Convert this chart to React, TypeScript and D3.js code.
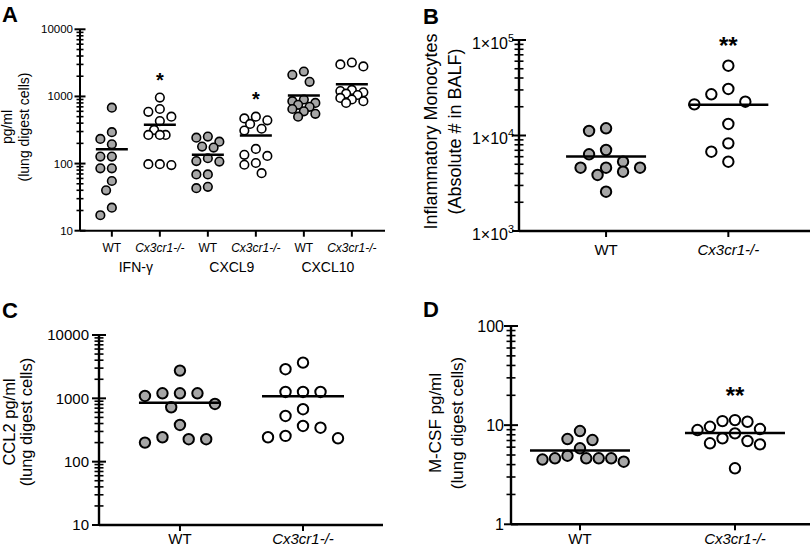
import React from 'react'
import * as d3 from 'd3'

const genotypes = ['WT', 'Cx3cr1-/-']
const cytokines = ['IFN-γ', 'CXCL9', 'CXCL10']

// panel A, pg/ml (lung digest cells)
const ifngWT = [680, 293, 233, 194, 127, 127, 85, 85, 55, 40, 22, 17]
const ifngKO = [960, 650, 590, 500, 430, 317, 267, 267, 267, 98, 98, 95]
const cxcl9WT = [252, 243, 212, 179, 173, 120, 109, 107, 69, 69, 45, 43]
const cxcl9KO = [470, 500, 440, 390, 310, 330, 165, 135, 130, 102, 96, 72]
const cxcl10WT = [2350, 2100, 1650, 900, 850, 800, 750, 700, 650, 600, 550, 500]
const cxcl10KO = [3200, 3000, 2800, 1250, 1200, 1150, 1100, 1050, 950, 900, 850, 800]
const aStars = ['', '*', '', '*', '', '']

// panel B, inflammatory monocytes in BALF
const monoWT = [11150, 11900, 7050, 6360, 5320, 4600, 4600, 4600, 4180, 3860, 2580]
const monoKO = [53800, 30700, 27000, 22600, 21200, 13200, 8280, 6770, 5320]
const bStars = ['', '**']

// panel C, CCL2
const ccl2WT = [2740, 1200, 1200, 1200, 1090, 816, 723, 380, 243, 226, 226, 200]
const ccl2KO = [3660, 2880, 1260, 1260, 1260, 673, 527, 366, 344, 255, 243, 234]
const cStars = ['', '']

// panel D, M-CSF
const mcsfWT = [8.72, 7.24, 7.08, 5.84, 4.92, 4.63, 4.63, 4.63, 4.63, 4.5, 4.28]
const mcsfKO = [11.25, 10.99, 10.82, 9.63, 9.14, 8.93, 8.26, 7.36, 6.92, 6.56, 6.4, 3.67]
const dStars = ['', '**']

const aTicks = [10, 100, 1000, 10000]
const bTicks = [1e3, 1e4, 1e5]
const cTicks = [10, 100, 1000, 10000]
const dTicks = [1, 10, 100]

const FONT = '"Liberation Sans", Arial, Helvetica, sans-serif'
const GRAY = '#a6a6a6'

interface Group {
  key: string
  label: string
  values: number[]
  filled: boolean
  star: string
}

interface PanelSpec {
  letter: string
  letterPos: [number, number]
  groups: Group[]
  axisX: number
  xEnd: number
  yTop: number
  yBottom: number
  ticks: number[]
  padding: number
  align: number
  sci: boolean
  tickFont: number
  tickGap: number
  labelFont: number
  labelBaseline: number
  yLabel: string[]
  yLabelX: number[]
  yLabelY: number
  yLabelFont: number
  r: number
  stroke: number
  spacing: number
  maxSteps: number
  half: number
  major: number
  minor: number
  axisW: number
  starGap: number
  starFont: number
  groupLabels?: { text: string; keys: string[] }[]
  groupLabelY?: number
  groupLabelFont?: number
}

// greedy beeswarm in half-spacing steps; when crowded, points overlap
function swarm(ys: number[], spacing: number, maxSteps: number) {
  const order = d3.range(ys.length).sort((a, b) => ys[a] - ys[b])
  const placed: [number, number][] = []
  const out = new Array(ys.length).fill(0)
  const h = spacing / 2
  const min2 = (spacing * 0.92) ** 2
  for (const i of order) {
    let best = 0
    let bestD = -1
    let found = false
    for (let k = 0; k <= maxSteps * 4; k++) {
      const off = k === 0 ? 0 : (k % 2 ? -1 : 1) * Math.ceil(k / 2) * h
      const d = placed.length
        ? (d3.min(placed, ([px, py]) => (px - off) ** 2 + (py - ys[i]) ** 2) as number)
        : Infinity
      if (d >= min2) {
        out[i] = off
        found = true
        break
      }
      if (d > bestD) {
        bestD = d
        best = off
      }
    }
    if (!found) out[i] = best
    placed.push([out[i], ys[i]])
  }
  return out
}

const Panel: React.FC<{ spec: PanelSpec }> = ({ spec }) => {
  const s = spec
  const lo = s.ticks[0]
  const hi = s.ticks[s.ticks.length - 1]
  const y = d3.scaleLog().domain([lo, hi]).range([s.yBottom, s.yTop])
  const x = d3
    .scalePoint()
    .domain(s.groups.map((g) => g.key))
    .range([s.axisX, s.xEnd])
    .padding(s.padding)
    .align(s.align)

  const minor: number[] = []
  d3.range(Math.round(Math.log10(lo)), Math.round(Math.log10(hi))).forEach((k) => {
    for (let m = 2; m <= 9; m++) minor.push(m * Math.pow(10, k))
  })

  return (
    <g fontFamily={FONT}>
      <text x={s.letterPos[0]} y={s.letterPos[1]} fontSize={22} fontWeight="bold">
        {s.letter}
      </text>

      {/* y label */}
      {s.yLabel.map((t, i) => (
        <text
          key={t}
          transform={`translate(${s.yLabelX[i]},${s.yLabelY}) rotate(-90)`}
          textAnchor="middle"
          dy="0.35em"
          fontSize={s.yLabelFont}
        >
          {t}
        </text>
      ))}

      {/* y axis */}
      <line x1={s.axisX} x2={s.axisX} y1={s.yTop} y2={s.yBottom} stroke="#000" strokeWidth={s.axisW} />
      {minor.map((v) => (
        <line
          key={'m' + v}
          x1={s.axisX - s.minor}
          x2={s.axisX + s.minor}
          y1={y(v)}
          y2={y(v)}
          stroke="#000"
          strokeWidth={1.6}
        />
      ))}
      {s.ticks.map((v) => (
        <g key={'t' + v}>
          <line
            x1={s.axisX - s.major}
            x2={s.axisX + s.major}
            y1={y(v)}
            y2={y(v)}
            stroke="#000"
            strokeWidth={2}
          />
          {s.sci ? (
            <text x={s.axisX - s.tickGap} y={y(v)} dy="0.55em" textAnchor="end" fontSize={s.tickFont}>
              <tspan>1×10</tspan>
              <tspan dy={-7} fontSize={s.tickFont * 0.68}>
                {Math.round(Math.log10(v))}
              </tspan>
            </text>
          ) : (
            <text x={s.axisX - s.tickGap} y={y(v)} dy="0.35em" textAnchor="end" fontSize={s.tickFont}>
              {v}
            </text>
          )}
        </g>
      ))}

      {/* x axis */}
      <line x1={s.axisX} x2={s.xEnd} y1={s.yBottom} y2={s.yBottom} stroke="#000" strokeWidth={s.axisW} />
      {s.groups.map((g) => (
        <g key={'x' + g.key}>
          <line
            x1={x(g.key)}
            x2={x(g.key)}
            y1={s.yBottom}
            y2={s.yBottom + 6}
            stroke="#000"
            strokeWidth={2}
          />
          <text
            x={x(g.key)}
            y={s.labelBaseline}
            textAnchor="middle"
            fontSize={s.labelFont}
            fontStyle={g.label === 'WT' ? 'normal' : 'italic'}
          >
            {g.label}
          </text>
        </g>
      ))}
      {s.groupLabels &&
        s.groupLabels.map((gl) => (
          <text
            key={gl.text}
            x={d3.mean(gl.keys, (k) => x(k) as number)}
            y={s.groupLabelY}
            textAnchor="middle"
            fontSize={s.groupLabelFont}
          >
            {gl.text}
          </text>
        ))}

      {/* points, mean, stars */}
      {s.groups.map((g) => {
        const cx = x(g.key) as number
        const ys = g.values.map((v) => y(v))
        const offs = swarm(ys, s.spacing, s.maxSteps)
        const m = y(d3.mean(g.values) as number)
        const top = d3.min(ys) as number
        return (
          <g key={'p' + g.key}>
            {g.values.map((v, i) => (
              <circle
                key={i}
                cx={cx + offs[i]}
                cy={ys[i]}
                r={s.r}
                fill={g.filled ? GRAY : '#fff'}
                stroke="#000"
                strokeWidth={s.stroke}
              />
            ))}
            <line x1={cx - s.half} x2={cx + s.half} y1={m} y2={m} stroke="#000" strokeWidth={2.5} />
            {g.star && (
              <text
                x={cx}
                y={top - s.starGap}
                textAnchor="middle"
                fontSize={s.starFont}
                fontWeight="bold"
                dy="0.5em"
              >
                {g.star}
              </text>
            )}
          </g>
        )
      })}
    </g>
  )
}

const aValues = [ifngWT, ifngKO, cxcl9WT, cxcl9KO, cxcl10WT, cxcl10KO]
const aGroups: Group[] = aValues.map((values, i) => ({
  key: cytokines[Math.floor(i / 2)] + '|' + genotypes[i % 2],
  label: genotypes[i % 2],
  values,
  filled: i % 2 === 0,
  star: aStars[i],
}))

const pair = (vals: number[][], stars: string[]): Group[] =>
  vals.map((values, i) => ({ key: genotypes[i], label: genotypes[i], values, filled: i === 0, star: stars[i] }))

const panels: PanelSpec[] = [
  {
    letter: 'A',
    letterPos: [2, 22],
    groups: aGroups,
    axisX: 80,
    xEnd: 385,
    yTop: 29.3,
    yBottom: 230.7,
    ticks: aTicks,
    padding: 0.677,
    align: 0.49,
    sci: false,
    tickFont: 11.5,
    tickGap: 7,
    labelFont: 12,
    labelBaseline: 252,
    yLabel: ['pg/ml', '(lung digest cells)'],
    yLabelX: [7.5, 24],
    yLabelY: 127,
    yLabelFont: 14,
    r: 4.3,
    stroke: 1.6,
    spacing: 11.5,
    maxSteps: 1,
    half: 16,
    major: 5.5,
    minor: 3.5,
    axisW: 2,
    starGap: 21,
    starFont: 20,
    groupLabels: cytokines.map((c) => ({ text: c, keys: genotypes.map((g) => c + '|' + g) })),
    groupLabelY: 272,
    groupLabelFont: 14,
  },
  {
    letter: 'B',
    letterPos: [423, 24],
    groups: pair([monoWT, monoKO], bStars),
    axisX: 519,
    xEnd: 810,
    yTop: 40,
    yBottom: 231,
    ticks: bTicks,
    padding: 0.69,
    align: 0.516,
    sci: true,
    tickFont: 16,
    tickGap: 5,
    labelFont: 15,
    labelBaseline: 255,
    yLabel: ['Inflammatory Monocytes', '(Absolute # in BALF)'],
    yLabelX: [431, 455],
    yLabelY: 131.5,
    yLabelFont: 18,
    r: 5.2,
    stroke: 2,
    spacing: 17,
    maxSteps: 2,
    half: 40,
    major: 7,
    minor: 4.5,
    axisW: 2.4,
    starGap: 24,
    starFont: 24,
  },
  {
    letter: 'C',
    letterPos: [2, 318],
    groups: pair([ccl2WT, ccl2KO], cStars),
    axisX: 99,
    xEnd: 383,
    yTop: 335,
    yBottom: 525,
    ticks: cTicks,
    padding: 0.654,
    align: 0.503,
    sci: false,
    tickFont: 15,
    tickGap: 10,
    labelFont: 15,
    labelBaseline: 544,
    yLabel: ['CCL2 pg/ml', '(lung digest cells)'],
    yLabelX: [9, 26],
    yLabelY: 422,
    yLabelFont: 16.5,
    r: 5.2,
    stroke: 2,
    spacing: 17.5,
    maxSteps: 2,
    half: 41,
    major: 7,
    minor: 4.5,
    axisW: 2.4,
    starGap: 24,
    starFont: 24,
  },
  {
    letter: 'D',
    letterPos: [423, 317],
    groups: pair([mcsfWT, mcsfKO], dStars),
    axisX: 511,
    xEnd: 810,
    yTop: 326,
    yBottom: 524.3,
    ticks: dTicks,
    padding: 0.4645,
    align: 0.479,
    sci: false,
    tickFont: 16,
    tickGap: 7,
    labelFont: 15,
    labelBaseline: 544,
    yLabel: ['M-CSF pg/ml', '(lung digest cells)'],
    yLabelX: [435, 457],
    yLabelY: 423,
    yLabelFont: 17,
    r: 5.2,
    stroke: 2,
    spacing: 12.5,
    maxSteps: 4,
    half: 50,
    major: 7,
    minor: 4.5,
    axisW: 2.4,
    starGap: 28,
    starFont: 24,
  },
]

export default function App() {
  return (
    <svg
      width={810}
      height={547}
      style={{ position: 'absolute', left: 0, top: 0, background: '#fff' }}
    >
      {panels.map((p) => (
        <Panel key={p.letter} spec={p} />
      ))}
    </svg>
  )
}
